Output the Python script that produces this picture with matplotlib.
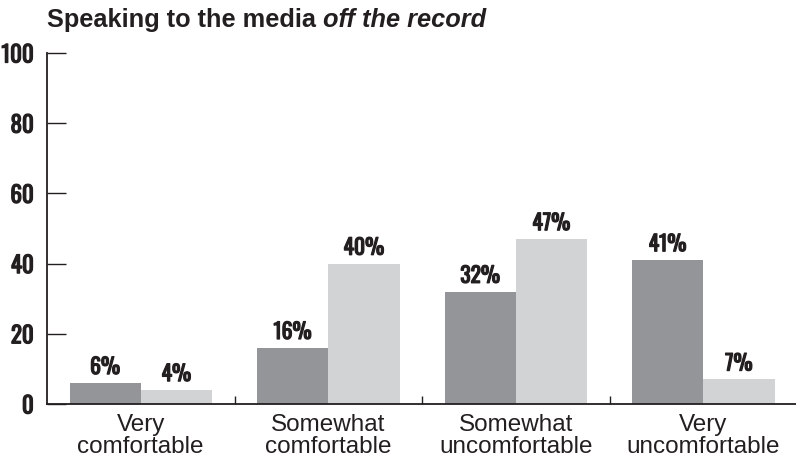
import matplotlib
matplotlib.use("Agg")
import matplotlib.pyplot as plt
import matplotlib.patheffects as pe
import numpy as np

categories = ["Very\ncomfortable", "Somewhat\ncomfortable",
              "Somewhat\nuncomfortable", "Very\nuncomfortable"]
series_a = [6, 16, 32, 41]
series_b = [4, 40, 47, 7]
y_ticks = [0, 20, 40, 60, 80, 100]

dark = "#939598"
light = "#d1d3d4"
ink = "#231f20"
narrow = ["Oswald", "Roboto Condensed", "Barlow Condensed", "DejaVu Sans"]
regular = ["Liberation Sans", "DejaVu Sans"]
# thicken the condensed numerals a little
heavy = [pe.withStroke(linewidth=0.9, foreground=ink)]

fig = plt.figure(figsize=(7.96, 4.63), dpi=100)
ax = fig.add_axes([47 / 796, 1 - 404 / 463, 750 / 796, 351 / 463])

x = np.arange(len(categories))
w = 0.38
bars_a = ax.bar(x - w / 2, series_a, w, color=dark, zorder=2)
bars_b = ax.bar(x + w / 2, series_b, w, color=light, zorder=2)

for bars, vals in ((bars_a, series_a), (bars_b, series_b)):
    for b, v in zip(bars, vals):
        ax.annotate(f"{v}%", (b.get_x() + b.get_width() / 2, v),
                    xytext=(0, 3.5), textcoords="offset points",
                    ha="center", va="bottom", fontsize=15.5,
                    fontweight="bold", family=narrow, color=ink,
                    path_effects=heavy)

ax.set_xlim(-0.5, 3.5)
ax.set_ylim(0, 100)

ax.spines["top"].set_visible(False)
ax.spines["right"].set_visible(False)
for s in ("left", "bottom"):
    ax.spines[s].set_color(ink)
    ax.spines[s].set_linewidth(1.3)

ax.set_yticks(y_ticks)
ax.set_yticklabels([str(t) for t in y_ticks], fontsize=16.5,
                   fontweight="bold", family=narrow, color=ink)
for lbl in ax.get_yticklabels():
    lbl.set_path_effects(heavy)
ax.tick_params(axis="y", direction="in", length=13.5, width=1,
               color=ink, pad=9.5)

ax.set_xticks(x)
ax.set_xticklabels(categories, fontsize=17.5, family=regular,
                   color=ink, linespacing=0.97)
ax.set_xticks([0.5, 1.5, 2.5], minor=True)
ax.tick_params(axis="x", which="major", length=0, pad=7.5)
ax.tick_params(axis="x", which="minor", direction="in", length=6,
               width=1, color=ink)

fig.text(47 / 796, 1 - 27 / 463, "Speaking to the media ",
         fontsize=18.3, fontweight="bold", family=regular, color=ink,
         va="baseline", ha="left")
t1 = fig.texts[-1]
fig.canvas.draw()
bb = t1.get_window_extent()
fig.text(bb.x1 / 796, 1 - 27 / 463, "off the record",
         fontsize=18.3, fontweight="bold", fontstyle="italic",
         family=regular, color=ink, va="baseline", ha="left")

fig.savefig("out.png", dpi=100)
